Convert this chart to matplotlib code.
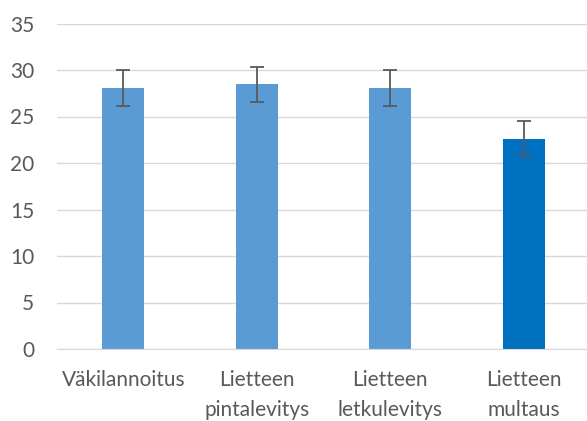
import matplotlib.pyplot as plt
import numpy as np

categories = ['Väkilannoitus', 'Lietteen\npintalevitys', 'Lietteen\nletkulevitys', 'Lietteen\nmultaus']
values = [28.05, 28.45, 28.05, 22.6]
errors = [1.9, 1.85, 1.9, 1.87]
colors = ['#5B9BD5', '#5B9BD5', '#5B9BD5', '#0070C0']

plt.rcParams['font.family'] = ['Lato', 'DejaVu Sans']

fig = plt.figure(figsize=(5.87, 4.21), dpi=100)
ax = fig.add_axes([56.5 / 587, 72 / 421, 534 / 587, 325.5 / 421])

x = np.arange(len(categories))
ax.bar(x, values, width=0.315, color=colors, zorder=2)
ax.errorbar(x, values, yerr=errors, fmt='none', ecolor='#595959',
            elinewidth=1.3, capsize=4.7, capthick=1.3, zorder=3)

ax.set_xlim(-0.5, len(categories) - 0.5)
ax.set_ylim(0, 35)
ax.set_yticks(range(0, 36, 5))
ax.set_xticks(x)
ax.set_xticklabels(categories, linespacing=1.65)

ax.yaxis.grid(True, color='#D9D9D9', linewidth=1, zorder=0)
for s in ['top', 'right', 'left']:
    ax.spines[s].set_visible(False)
ax.spines['bottom'].set_color('#D9D9D9')
ax.tick_params(axis='both', length=0, labelsize=15, labelcolor='#595959')
ax.tick_params(axis='x', pad=15)
ax.tick_params(axis='y', pad=16)

fig.savefig('out.png', dpi=100)
